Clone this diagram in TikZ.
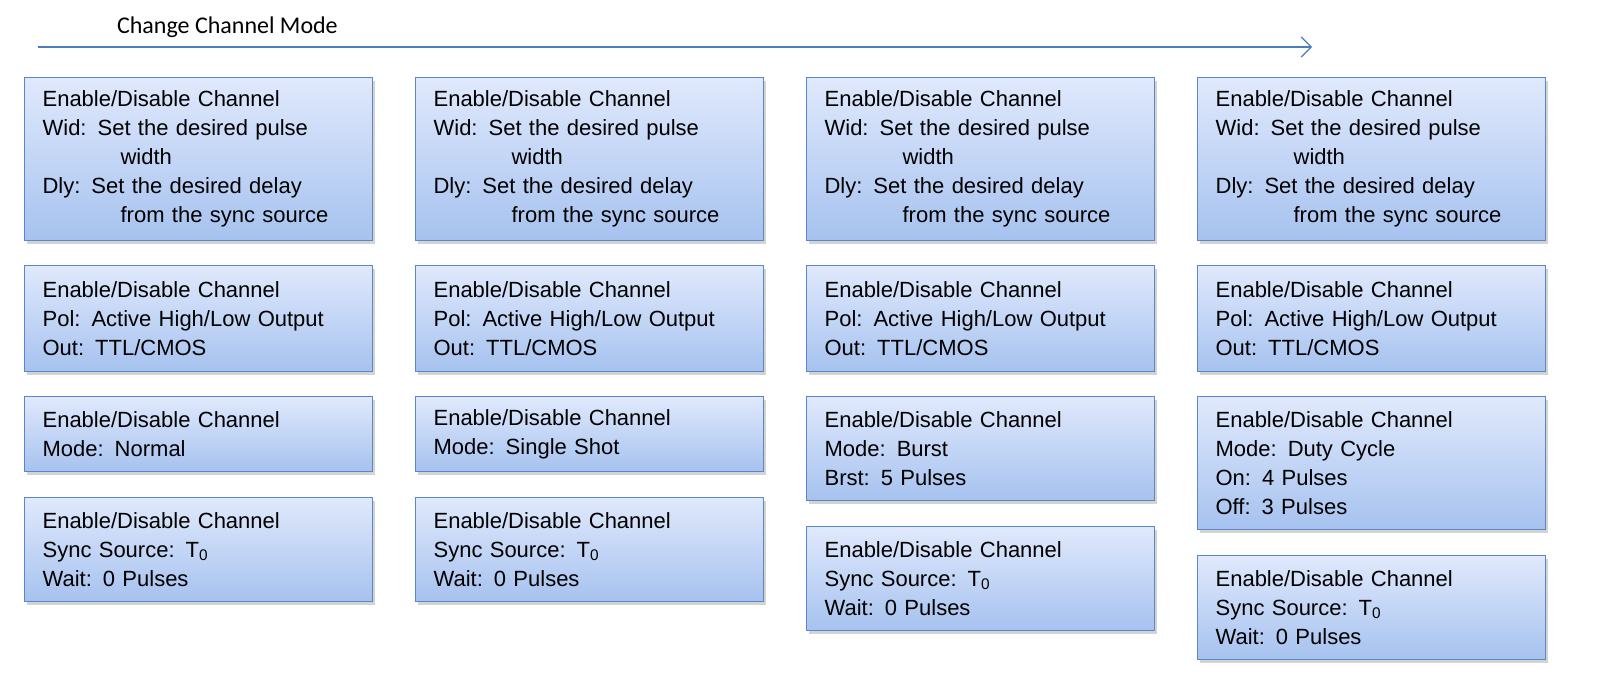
\documentclass[tikz,border=0pt]{standalone}
\usepackage{fontspec}
\setmainfont{Liberation Sans}
\newfontfamily\titlefont{Carlito}
\usetikzlibrary{shadows,arrows.meta}
\definecolor{boxline}{HTML}{5B87C6}
\definecolor{boxtop}{HTML}{E0E9FC}
\definecolor{boxbot}{HTML}{A6C2EF}
\definecolor{arrowblue}{HTML}{4A7EBB}
\tikzset{
  chbox/.style={draw=boxline, line width=0.6pt, top color=boxtop, bottom color=boxbot,
    anchor=north west, minimum width=174pt, text width=156pt, align=left,
    inner xsep=9pt, font=\fontsize{11}{14.5}\selectfont,
    drop shadow={shadow xshift=1.2pt, shadow yshift=-1.5pt, opacity=0.35}},
}
\newcommand{\hang}{\hspace*{39pt}}
\newcommand{\widtxt}{Enable/Disable Channel\\Wid: Set the desired pulse\\\hang width\\Dly: Set the desired delay\\\hang from the sync source}
\newcommand{\poltxt}{Enable/Disable Channel\\Pol: Active High/Low Output\\Out: TTL/CMOS}
\newcommand{\synctxt}{Enable/Disable Channel\\Sync Source: T\textsubscript{0}\\Wait: 0 Pulses}
\begin{document}
\begin{tikzpicture}[x=0.5pt, y=-0.5pt]

  % Title arrow
  \node[anchor=west, font=\titlefont\fontsize{12}{14}\selectfont] (title) at (110,27) {Change Channel Mode};
  \coordinate (arrs) at (38,47);
  \coordinate (arre) at (1312,47);
  \draw[arrowblue, line width=0.6pt, -{Straight Barb[length=5pt, width=10pt]}] (arrs) -- (arre);

  % Width / delay row
  \foreach \c/\x in {a/24, b/415, c/806, d/1197}
    \node[chbox, minimum height=81.5pt] (wid\c) at (\x,77) {\widtxt};

  % Polarity row
  \foreach \c/\x in {a/24, b/415, c/806, d/1197}
    \node[chbox, minimum height=53pt] (pol\c) at (\x,265) {\poltxt};

  % Mode row
  \node[chbox, minimum height=37.5pt] (modea) at (24,396) {Enable/Disable Channel\\Mode: Normal};
  \node[chbox, minimum height=37.5pt] (modeb) at (415,396) {Enable/Disable Channel\\Mode: Single Shot};
  \node[chbox, minimum height=52pt] (modec) at (806,396) {Enable/Disable Channel\\Mode: Burst\\Brst: 5 Pulses};
  \node[chbox, minimum height=66.5pt] (moded) at (1197,396) {Enable/Disable Channel\\Mode: Duty Cycle\\On: 4 Pulses\\Off: 3 Pulses};

  % Sync row
  \node[chbox, minimum height=52pt] (synca) at (24,497) {\synctxt};
  \node[chbox, minimum height=52pt] (syncb) at (415,497) {\synctxt};
  \node[chbox, minimum height=52pt] (syncc) at (806,526) {\synctxt};
  \node[chbox, minimum height=52pt] (syncd) at (1197,555) {\synctxt};

  \pgfresetboundingbox
  \useasboundingbox (0,0) rectangle (1600,699);
\end{tikzpicture}
\end{document}
